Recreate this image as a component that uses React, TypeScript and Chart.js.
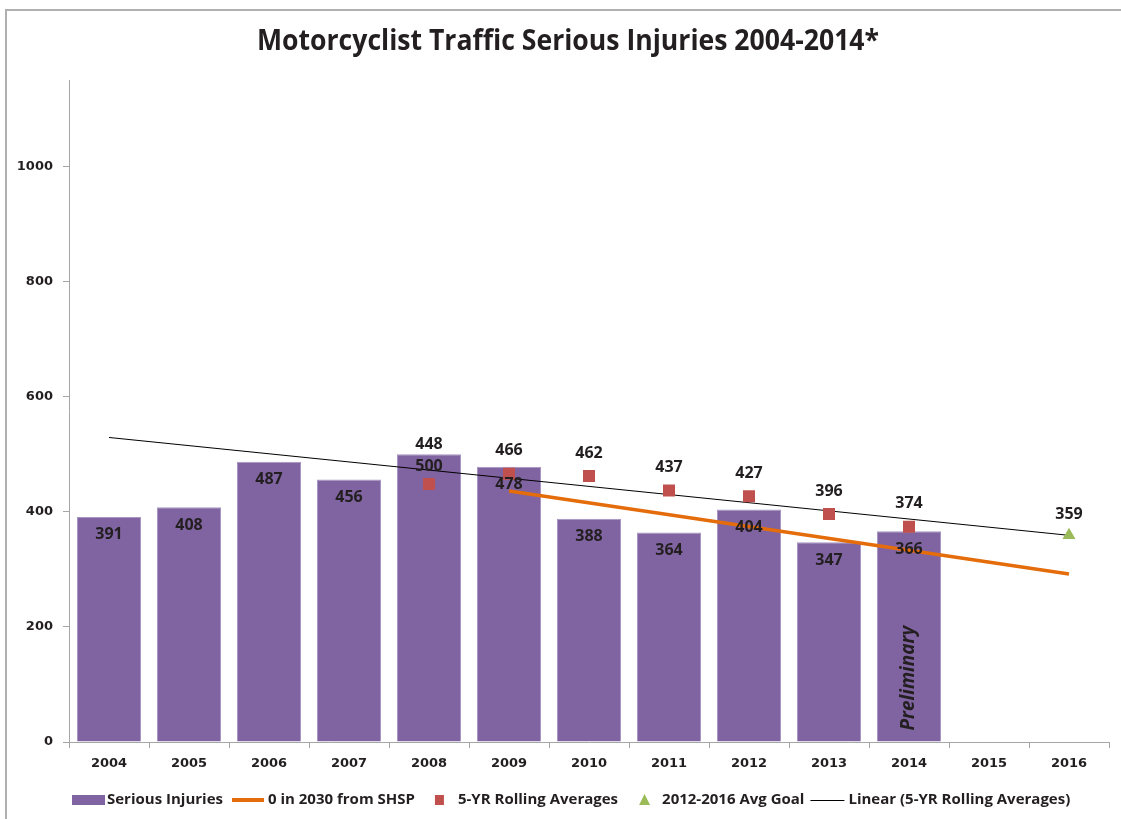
import React, { useEffect, useRef } from 'react';
import { Chart, registerables } from 'chart.js';

Chart.register(...registerables);

const years = ['2004', '2005', '2006', '2007', '2008', '2009', '2010', '2011', '2012', '2013', '2014', '2015', '2016'];
const seriousInjuries = [391, 408, 487, 456, 500, 478, 388, 364, 404, 347, 366, null, null];
const rollingAverages = [null, null, null, null, 448, 466, 462, 437, 427, 396, 374, null, null];
const avgGoal = [null, null, null, null, null, null, null, null, null, null, null, null, 359];
const shspTarget = [null, null, null, null, null, 436, null, null, null, null, null, null, 292];
const linearTrend = [529, null, null, null, null, null, null, null, null, null, null, null, 359];
const yTickValues = [0, 200, 400, 600, 800, 1000];
const Y_MAX = 1150;

const TITLE = 'Motorcyclist Traffic Serious Injuries 2004-2014*';
const legendNames = [
  'Serious Injuries',
  '0 in 2030 from SHSP',
  '5-YR Rolling Averages',
  '2012-2016 Avg Goal',
  'Linear (5-YR Rolling Averages)',
];
const PRELIM_TEXT = 'Preliminary';
const PRELIM_INDEX = 10;
const PRELIM_VALUE = 111;

const TEXT = '#231f20';
const PURPLE = '#8064A2';
const PURPLE_EDGE = '#a896c2';
const ORANGE = '#E46C0A';
const RED = '#C0504D';
const GREEN = '#9BBB59';
const AXIS = '#a6a6a6';
const NARROW = '"Open Sans", sans-serif';
const WIDE = '"DejaVu Sans", Verdana, sans-serif';
const LABEL = '"Open Sans", "DejaVu Sans", sans-serif';

const decorPlugin = {
  id: 'decor',
  beforeDraw(chart: any) {
    const ctx = chart.ctx as CanvasRenderingContext2D;
    ctx.save();
    ctx.fillStyle = '#ffffff';
    ctx.fillRect(0, 0, chart.width, chart.height);
    ctx.strokeStyle = '#b0b0b0';
    ctx.lineWidth = 2;
    ctx.beginPath();
    ctx.moveTo(6, chart.height);
    ctx.lineTo(6, 10);
    ctx.lineTo(chart.width, 10);
    ctx.stroke();
    ctx.fillStyle = TEXT;
    ctx.font = `bold 27px ${NARROW}`;
    ctx.textAlign = 'center';
    ctx.textBaseline = 'middle';
    ctx.translate(568, 42);
    ctx.scale(0.985, 1.05);
    ctx.fillText(TITLE, 0, 0);
    ctx.restore();
  },
  afterDatasetsDraw(chart: any) {
    const ctx = chart.ctx as CanvasRenderingContext2D;
    const xs = chart.scales.x;
    const ys = chart.scales.y;
    ctx.save();
    ctx.fillStyle = TEXT;
    ctx.font = `bold 16px ${LABEL}`;
    ctx.textAlign = 'center';
    ctx.textBaseline = 'middle';
    years.forEach((_, i) => {
      const xp = xs.getPixelForValue(i);
      const bar = seriousInjuries[i];
      const avg = rollingAverages[i];
      const goal = avgGoal[i];
      let barY = bar != null ? ys.getPixelForValue(bar) + 18 : null;
      let avgY = avg != null ? ys.getPixelForValue(avg) - 23 : null;
      if (barY != null && avgY != null && Math.abs(barY - avgY) < 16) {
        barY = ys.getPixelForValue(bar as number) + 12;
        avgY = barY - 22;
      }
      if (barY != null) ctx.fillText(String(bar), xp, barY);
      if (avgY != null) ctx.fillText(String(avg), xp, avgY);
      if (goal != null) ctx.fillText(String(goal), xp, ys.getPixelForValue(goal) - 21);
    });
    // Preliminary note
    ctx.save();
    ctx.translate(xs.getPixelForValue(PRELIM_INDEX), ys.getPixelForValue(PRELIM_VALUE));
    ctx.rotate(-Math.PI / 2);
    ctx.font = `italic bold 19px ${NARROW}`;
    ctx.fillText(PRELIM_TEXT, 0, 0);
    ctx.restore();
    ctx.restore();
  },
  afterDraw(chart: any) {
    const ctx = chart.ctx as CanvasRenderingContext2D;
    ctx.save();
    ctx.font = `bold 15px ${NARROW}`;
    ctx.textBaseline = 'middle';
    ctx.textAlign = 'left';
    const cy = 800;
    let x = 72;
    const items = [
      { w: 33, gap: 2, after: 9 },
      { w: 32, gap: 4, after: 20 },
      { w: 9, gap: 14, after: 21 },
      { w: 11, gap: 12, after: 6 },
      { w: 34, gap: 4, after: 0 },
    ];
    items.forEach((it, i) => {
      if (i === 0) {
        ctx.fillStyle = PURPLE;
        ctx.fillRect(x, cy - 5, it.w, 10);
      } else if (i === 1) {
        ctx.strokeStyle = ORANGE;
        ctx.lineWidth = 4;
        ctx.beginPath();
        ctx.moveTo(x, cy);
        ctx.lineTo(x + it.w, cy);
        ctx.stroke();
      } else if (i === 2) {
        ctx.fillStyle = RED;
        ctx.fillRect(x, cy - 5, 9, 10);
      } else if (i === 3) {
        ctx.fillStyle = GREEN;
        ctx.beginPath();
        ctx.moveTo(x + it.w / 2, cy - 6);
        ctx.lineTo(x + it.w, cy + 5);
        ctx.lineTo(x, cy + 5);
        ctx.closePath();
        ctx.fill();
      } else {
        ctx.strokeStyle = '#000000';
        ctx.lineWidth = 1;
        ctx.beginPath();
        ctx.moveTo(x, cy + 0.5);
        ctx.lineTo(x + it.w, cy + 0.5);
        ctx.stroke();
      }
      x += it.w + it.gap;
      ctx.fillStyle = TEXT;
      ctx.fillText(legendNames[i], x, cy);
      x += ctx.measureText(legendNames[i]).width + it.after;
    });
    ctx.restore();
  },
};

export default function App() {
  const ref = useRef<HTMLCanvasElement | null>(null);
  useEffect(() => {
    if (!ref.current) return;
    const chart = new Chart(ref.current, {
      type: 'bar',
      data: {
        labels: years,
        datasets: [
          {
            type: 'line',
            label: legendNames[2],
            data: rollingAverages,
            showLine: false,
            pointStyle: 'rect',
            pointRadius: 8.5,
            pointBackgroundColor: RED,
            pointBorderColor: RED,
            pointBorderWidth: 0,
            order: 1,
          } as any,
          {
            type: 'line',
            label: legendNames[3],
            data: avgGoal,
            showLine: false,
            pointStyle: 'triangle',
            pointRadius: 7.5,
            pointBackgroundColor: GREEN,
            pointBorderColor: GREEN,
            pointBorderWidth: 0,
            order: 1,
          } as any,
          {
            type: 'line',
            label: legendNames[4],
            data: linearTrend,
            spanGaps: true,
            borderColor: '#000000',
            borderWidth: 1,
            pointRadius: 0,
            order: 2,
          } as any,
          {
            type: 'line',
            label: legendNames[1],
            data: shspTarget,
            spanGaps: true,
            borderColor: ORANGE,
            borderWidth: 3.5,
            pointRadius: 0,
            order: 3,
          } as any,
          {
            type: 'bar',
            label: legendNames[0],
            data: seriousInjuries,
            backgroundColor: PURPLE,
            borderColor: PURPLE_EDGE,
            borderWidth: 1,
            barPercentage: 0.8,
            categoryPercentage: 1,
            order: 10,
          } as any,
        ],
      },
      options: {
        animation: false,
        responsive: false,
        events: [],
        layout: { padding: { left: 0, right: 12, top: 80, bottom: 0 } },
        plugins: {
          legend: { display: false },
          title: { display: false },
          tooltip: { enabled: false },
        },
        scales: {
          x: {
            offset: true,
            grid: {
              display: true,
              offset: true,
              drawOnChartArea: false,
              drawTicks: true,
              tickLength: 6,
              color: AXIS,
            },
            border: { display: true, color: AXIS, width: 1 },
            ticks: {
              color: TEXT,
              font: { family: WIDE, weight: 'bold', size: 13 },
              padding: 8,
              maxRotation: 0,
              autoSkip: false,
            },
            afterFit(scale: any) {
              scale.height = 77;
            },
          },
          y: {
            min: 0,
            max: Y_MAX,
            grid: {
              display: true,
              drawOnChartArea: false,
              drawTicks: true,
              tickLength: 6,
              color: AXIS,
            },
            border: { display: true, color: AXIS, width: 1 },
            ticks: {
              stepSize: 200,
              color: TEXT,
              font: { family: WIDE, weight: 'bold', size: 13 },
              padding: 10,
              callback: (v: any) => String(v),
            },
            afterBuildTicks(scale: any) {
              scale.ticks = yTickValues.map((v) => ({ value: v }));
            },
            afterFit(scale: any) {
              scale.width = 69;
            },
          },
        },
      },
      plugins: [decorPlugin],
    } as any);
    return () => chart.destroy();
  }, []);
  return (
    <div style={{ position: 'absolute', left: 0, top: 0, width: 1121, height: 819, background: '#fff' }}>
      <canvas ref={ref} width={1121} height={819} style={{ display: 'block' }} />
    </div>
  );
}
